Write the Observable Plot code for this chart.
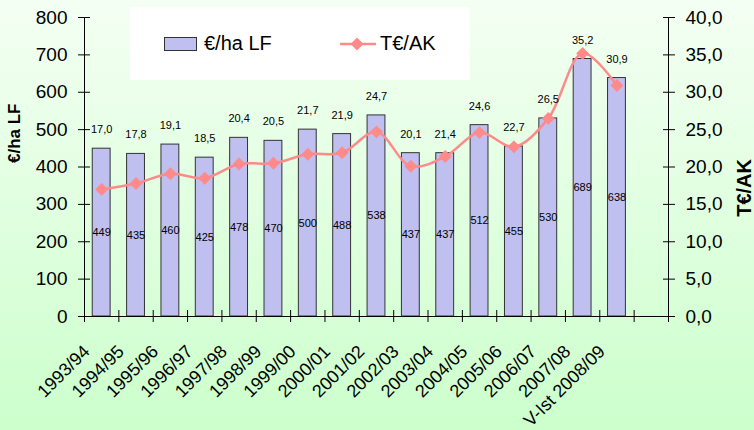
<!DOCTYPE html>
<html>
<head>
<meta charset="utf-8">
<script src="https://cdn.jsdelivr.net/npm/d3@7"></script>
<script src="https://cdn.jsdelivr.net/npm/@observablehq/plot@0.6"></script>
<style>
  html, body { margin: 0; padding: 0; }
  body { width: 754px; height: 430px; overflow: hidden; }
  #wrap {
    position: relative; width: 754px; height: 430px;
    background: linear-gradient(to bottom, #f4fff3 0%, #ccffcc 100%);
    font-family: "Liberation Sans", Arial, sans-serif;
  }
  #wrap svg { position: absolute; left: 0; top: 0; background: transparent; }
  #legend {
    position: absolute; left: 130px; top: 7px; width: 340px; height: 73px;
    background: #ffffff; font-size: 20px; color: #000;
  }
  #legend .item { position: absolute; top: 0; height: 73px; display: flex; align-items: center; }
</style>
</head>
<body>
<div id="wrap">
  <div id="legend">
    <div class="item" style="left:34px">
      <span style="display:inline-block;width:31px;height:12px;background:#bfbff0;border:1px solid #333;margin-right:7px"></span>
      <span>€/ha LF</span>
    </div>
    <div class="item" style="left:210px">
      <svg width="36" height="16" style="position:static;margin-right:4px"><line x1="0" y1="8" x2="36" y2="8" stroke="#ff8a8a" stroke-width="2.5"/><path d="M17,1.5L23.5,8L17,14.5L10.5,8Z" fill="#ff8a8a"/></svg>
      <span>T€/AK</span>
    </div>
  </div>
</div>
<script>
const categories = ["1993/94","1994/95","1995/96","1996/97","1997/98","1998/99","1999/00","2000/01","2001/02","2002/03","2003/04","2004/05","2005/06","2006/07","2007/08","V-Ist 2008/09"];
const eurPerHa = [449,435,460,425,478,470,500,488,538,437,437,512,455,530,689,638];
const tEurPerAK = [17.0,17.8,19.1,18.5,20.4,20.5,21.7,21.9,24.7,20.1,21.4,24.6,22.7,26.5,35.2,30.9];
const leftTicks = [0,100,200,300,400,500,600,700,800];
const rightTicks = [0,5,10,15,20,25,30,35,40];
const ratio = 20; // 800 €/ha corresponds to 40 T€/AK

const rows = categories.map((c, i) => ({cat: c, i, eur: eurPerHa[i], tak: tEurPerAK[i]}));
const slots = categories.length + 1;
const comma1 = v => v.toFixed(1).replace(".", ",");

const chart = Plot.plot({
  width: 754,
  height: 430,
  marginLeft: 84,
  marginRight: 86,
  marginTop: 17,
  marginBottom: 114,
  style: {fontFamily: "Liberation Sans, Arial, sans-serif", background: "transparent", color: "#000"},
  x: {type: "linear", domain: [0, slots], axis: null},
  y: {domain: [0, 800], axis: null},
  marks: [
    Plot.rectY(rows, {x1: d => d.i + 0.24, x2: d => d.i + 0.76, y: "eur", fill: "#bfbff0", stroke: "#333", strokeWidth: 1}),
    Plot.ruleY([0], {stroke: "#000"}),
    Plot.ruleX([0, slots], {stroke: "#000"}),
    Plot.axisY({anchor: "left", label: null, ticks: leftTicks, tickSize: 12, dx: 6, tickPadding: 11, fontSize: 19}),
    Plot.axisY({anchor: "right", label: null, ticks: rightTicks.map(v => v * ratio), tickFormat: d => comma1(d / ratio), tickSize: 12, dx: -6, tickPadding: 11, fontSize: 19}),
    Plot.axisX({label: null, ticks: d3.range(0, slots + 1), tickSize: 12, dy: -6, tickFormat: () => ""}),
    Plot.axisX({label: null, ticks: rows.map(d => d.i + 0.5), tickFormat: d => categories[Math.floor(d)], tickRotate: -45, tickSize: 0, tickPadding: 32, dx: -15, fontSize: 18}),
    Plot.line(rows, {x: d => d.i + 0.5, y: d => d.tak * ratio, curve: "catmull-rom", stroke: "#ff8a8a", strokeWidth: 2.5}),
    Plot.dot(rows, {x: d => d.i + 0.5, y: d => d.tak * ratio, symbol: "diamond2", r: 5.8, fill: "#ff8a8a", stroke: "none"}),
    Plot.text(rows, {x: d => d.i + 0.5, y: "eur", text: d => comma1(d.tak), dy: -19, fontSize: 11, fill: "#000"}),
    Plot.text(rows, {x: d => d.i + 0.5, y: d => d.eur / 2, text: d => String(d.eur), fontSize: 11, fill: "#000"}),
    Plot.text(["€/ha LF"], {frameAnchor: "left", rotate: -90, dx: -70, dy: -4, fontSize: 17, fontWeight: "bold", fill: "#000"}),
    Plot.text(["T€/AK"], {frameAnchor: "right", rotate: -90, dx: 76, dy: -8, fontSize: 20, fontWeight: "bold", fill: "#000"})
  ]
});
document.getElementById("wrap").insertBefore(chart, document.getElementById("legend"));
</script>
</body>
</html>
